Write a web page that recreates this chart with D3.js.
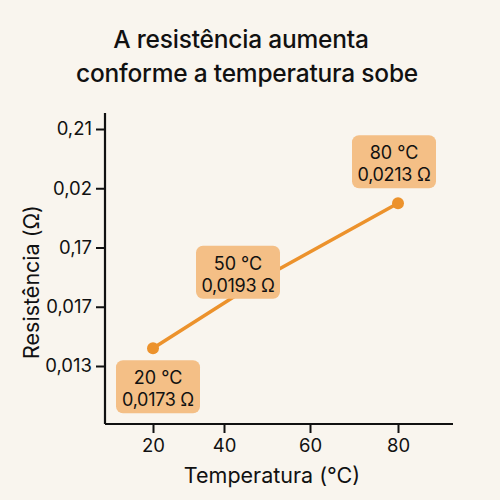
<!DOCTYPE html>
<html><head><meta charset="utf-8">
<script src="https://cdn.jsdelivr.net/npm/d3@7/dist/d3.min.js"></script>
<style>
html,body{margin:0;padding:0;background:#f9f5ee;}
text{font-family:Inter,"Noto Sans",sans-serif;fill:#111;}
</style></head>
<body>
<svg id="c" width="500" height="500"></svg>
<script>
// data
const temps = [20, 50, 80];
const resist = [0.0173, 0.0193, 0.0213];
const labelTemp = ["20 °C", "50 °C", "80 °C"];
const labelRes = ["0,0173 Ω", "0,0193 Ω", "0,0213 Ω"];
const xTicks = [20, 40, 60, 80];
const yTickLabels = ["0,013", "0,017", "0,17", "0,02", "0,21"];
const titleLines = ["A resistência aumenta", "conforme a temperatura sobe"];

// layout
const labelDx = [5, -29, -4];
const labelDy = [39, -3, -41];

const svg = d3.select("#c");
svg.append("rect").attr("width",500).attr("height",500).attr("fill","#f9f5ee");

const plotL = 105, plotR = 453, plotT = 113, plotB = 424;
const x = d3.scaleLinear().domain([20,40,60,80]).range([153,224,310,398]);
const y = d3.scaleLinear().domain([0.01521, 0.02379]).range([plotB, plotT]);
const yTick = d3.scalePoint().domain(yTickLabels).range([366, 129]);

// title
svg.append("g").selectAll("text").data(titleLines).join("text")
  .attr("x", (d,i)=> i===0 ? 241 : 247)
  .attr("y", (d,i)=> 48 + i*34)
  .attr("text-anchor","middle")
  .attr("font-size", 24.5).attr("font-weight", 500)
  .attr("letter-spacing", -0.2)
  .text(d=>d);

// axes
const gx = svg.append("g").attr("transform",`translate(0,${plotB})`)
  .call(d3.axisBottom(x).tickValues(xTicks).tickSize(9).tickSizeOuter(0).tickPadding(6));
gx.select(".domain").attr("d", `M${plotL},0H${plotR}`);
const gy = svg.append("g").attr("transform",`translate(${plotL},0)`)
  .call(d3.axisLeft(yTick).tickSize(9).tickSizeOuter(0).tickPadding(4));
gy.select(".domain").attr("d", `M0,${plotT}V${plotB}`);
[gx, gy].forEach(g=>{
  g.select(".domain").attr("stroke","#111").attr("stroke-width",2.2);
  g.selectAll(".tick line").attr("stroke","#111").attr("stroke-width",2);
  g.selectAll(".tick text").attr("font-size",18.5).attr("fill","#111")
    .attr("font-family","Inter, 'Noto Sans', sans-serif");
});

// axis titles
svg.append("text").attr("x", 272).attr("y", 483).attr("text-anchor","middle")
  .attr("font-size",21.5).text("Temperatura (°C)");
svg.append("text").attr("transform","translate(39,282) rotate(-90)")
  .attr("text-anchor","middle").attr("font-size",21.5).text("Resistência (Ω)");

// line + points
const pts = temps.map((t,i)=>({t, r: resist[i], i}));
svg.append("path").datum(pts)
  .attr("d", d3.line().x(d=>x(d.t)).y(d=>y(d.r)))
  .attr("fill","none").attr("stroke","#ec922c").attr("stroke-width",3.5);
svg.append("g").selectAll("circle").data(pts).join("circle")
  .attr("cx", d=>x(d.t)).attr("cy", d=>y(d.r)).attr("r", 6)
  .attr("fill","#ec922c");

// labels
const lg = svg.append("g").selectAll("g").data(pts).join("g")
  .attr("transform", d=>`translate(${x(d.t)+labelDx[d.i]},${y(d.r)+labelDy[d.i]})`);
lg.append("rect").attr("x",-42).attr("y",-27).attr("width",84).attr("height",53)
  .attr("rx",7).attr("fill","#f4bf86");
lg.append("text").attr("text-anchor","middle").attr("y",-3).attr("font-size",18)
  .text(d=>labelTemp[d.i]);
lg.append("text").attr("text-anchor","middle").attr("y",19).attr("font-size",18)
  .attr("letter-spacing",-0.3)
  .text(d=>labelRes[d.i]);
</script>
</body></html>
